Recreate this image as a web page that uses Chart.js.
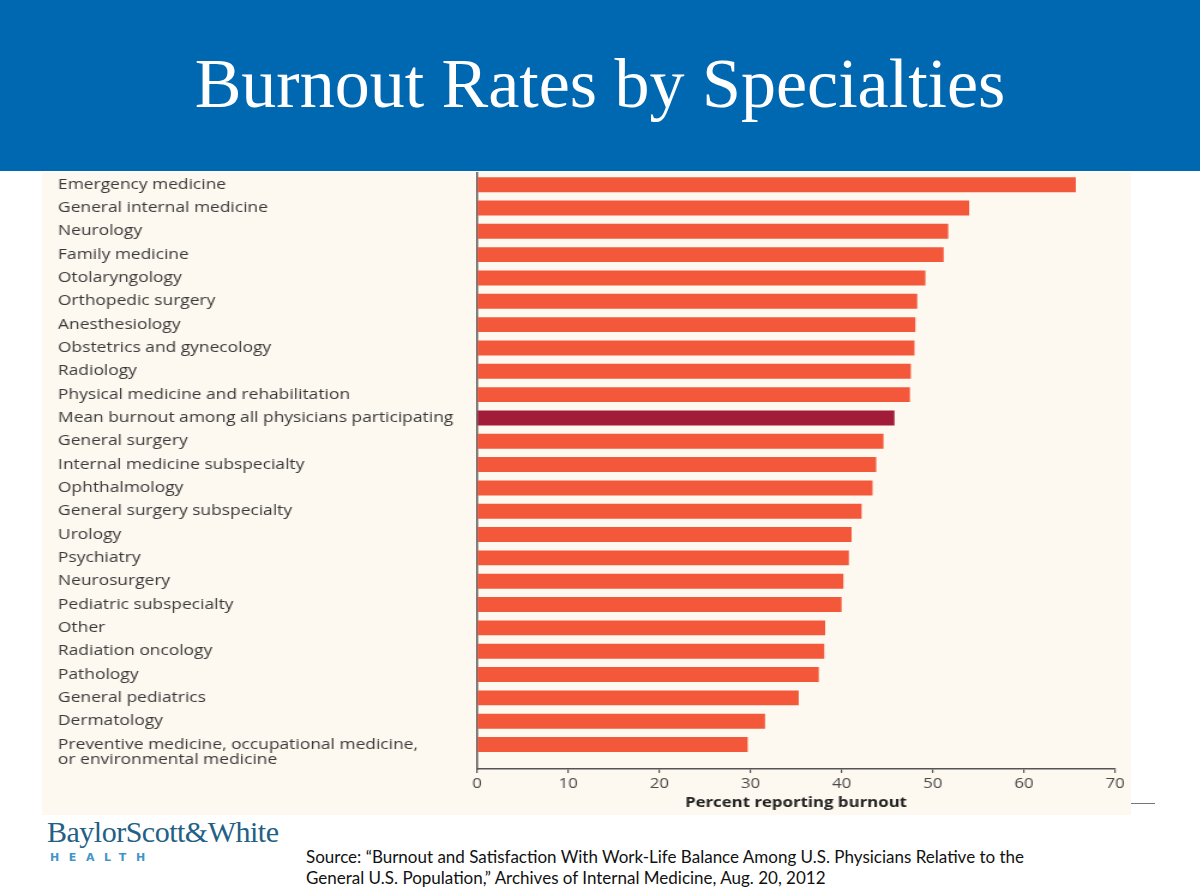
<!DOCTYPE html>
<html><head><meta charset="utf-8">
<script src="https://cdn.jsdelivr.net/npm/chart.js@4.4.1/dist/chart.umd.min.js"></script>
<style>
html,body{margin:0;padding:0;background:#fff;width:1200px;height:888px;overflow:hidden;position:relative;}
#band{position:absolute;left:0;top:0;width:1200px;height:171px;background:#0067B1;}
#title{position:absolute;left:0;top:-2px;width:1200px;height:171px;line-height:171px;text-align:center;color:#fff;font-family:"Liberation Serif",serif;font-size:70px;}
#panel{position:absolute;left:42px;top:172px;width:1089px;height:643px;background:#FEF9F0;}
#wrap{position:absolute;left:42px;top:172px;width:908px;height:643px;transform:scaleX(1.19934);transform-origin:0 0;}
#dash{position:absolute;left:1131px;top:803px;width:24px;height:1px;background:#777;}
#logo1{position:absolute;left:47px;top:815px;font-family:"Liberation Serif",serif;font-size:30px;color:#245f86;letter-spacing:-0.5px;white-space:nowrap;}
#logo2{position:absolute;left:50px;top:851px;font-family:"DejaVu Sans",sans-serif;font-weight:bold;font-size:11px;color:#3f95c6;letter-spacing:9.6px;}
#src{position:absolute;left:306px;top:846px;font-family:"Lato",sans-serif;font-size:17px;line-height:21px;color:#111;white-space:nowrap;}
</style></head>
<body>
<div id="band"></div>
<div id="title">Burnout Rates by Specialties</div>
<div id="panel"></div>
<div id="wrap"><canvas id="c" width="908" height="643"></canvas></div>
<div id="dash"></div>
<div id="logo1">BaylorScott&amp;White</div>
<div id="logo2">HEALTH</div>
<div id="src">Source: “Burnout and Satisfaction With Work-Life Balance Among U.S. Physicians Relative to the<br>General U.S. Population,” Archives of Internal Medicine, Aug. 20, 2012</div>
<script>
const specialties = [
  "Emergency medicine",
  "General internal medicine",
  "Neurology",
  "Family medicine",
  "Otolaryngology",
  "Orthopedic surgery",
  "Anesthesiology",
  "Obstetrics and gynecology",
  "Radiology",
  "Physical medicine and rehabilitation",
  "Mean burnout among all physicians participating",
  "General surgery",
  "Internal medicine subspecialty",
  "Ophthalmology",
  "General surgery subspecialty",
  "Urology",
  "Psychiatry",
  "Neurosurgery",
  "Pediatric subspecialty",
  "Other",
  "Radiation oncology",
  "Pathology",
  "General pediatrics",
  "Dermatology",
  ["", "Preventive medicine, occupational medicine,", "or environmental medicine"]
];
const burnoutPercent = [65.7, 54.0, 51.7, 51.2, 49.2, 48.3, 48.1, 48.0, 47.6, 47.5,
  45.8, 44.6, 43.8, 43.4, 42.2, 41.1, 40.8, 40.2, 40.0, 38.2, 38.1, 37.5, 35.3, 31.6, 29.7];
const meanIndex = 10;
const xTicks = [0, 10, 20, 30, 40, 50, 60, 70];

const barColors = burnoutPercent.map((v, i) => i === meanIndex ? '#A21C3A' : '#F4583B');
const S = 1.19934; // horizontal stretch of the original figure

new Chart(document.getElementById('c'), {
  type: 'bar',
  data: {
    labels: specialties,
    datasets: [{ data: burnoutPercent, backgroundColor: barColors, borderWidth: 0,
      categoryPercentage: 1.0, barPercentage: 0.64 }]
  },
  options: {
    indexAxis: 'y',
    responsive: false,
    animation: false,
    events: [],
    layout: { padding: { left: 16 / S, right: 16 / S, top: 1, bottom: 0 } },
    plugins: { legend: { display: false }, tooltip: { enabled: false } },
    scales: {
      y: {
        type: 'category',
        offset: true,
        afterBuildTicks: s => { s._valueRange = s._valueRange + 0.55; },
        afterFit: s => { s.width = 419 / S; s.paddingTop = 0; s.paddingBottom = 0; },
        grid: { display: false },
        border: { display: true, color: '#555', width: 1.5 },
        ticks: { crossAlign: 'far', color: '#383838', padding: 0, autoSkip: false,
          font: { family: '"Open Sans", sans-serif', size: 14.5, lineHeight: 1.08 } }
      },
      x: {
        type: 'linear',
        min: 0, max: 70,
        afterBuildTicks: s => { s.ticks = xTicks.map(v => ({ value: v })); },
        afterFit: s => { s.height = 46; },
        grid: { drawOnChartArea: false, drawTicks: true, tickLength: 4, color: '#555', lineWidth: 1.2 },
        border: { display: true, color: '#555', width: 1.5 },
        ticks: { color: '#4a4a4a', padding: 3, maxRotation: 0,
          font: { family: '"Open Sans", sans-serif', size: 14 } },
        title: { display: true, text: 'Percent reporting burnout', color: '#222',
          padding: { top: 4, bottom: 4 },
          font: { family: '"Open Sans", sans-serif', size: 14, weight: 'bold' } }
      }
    }
  }
});
</script>
</body></html>
